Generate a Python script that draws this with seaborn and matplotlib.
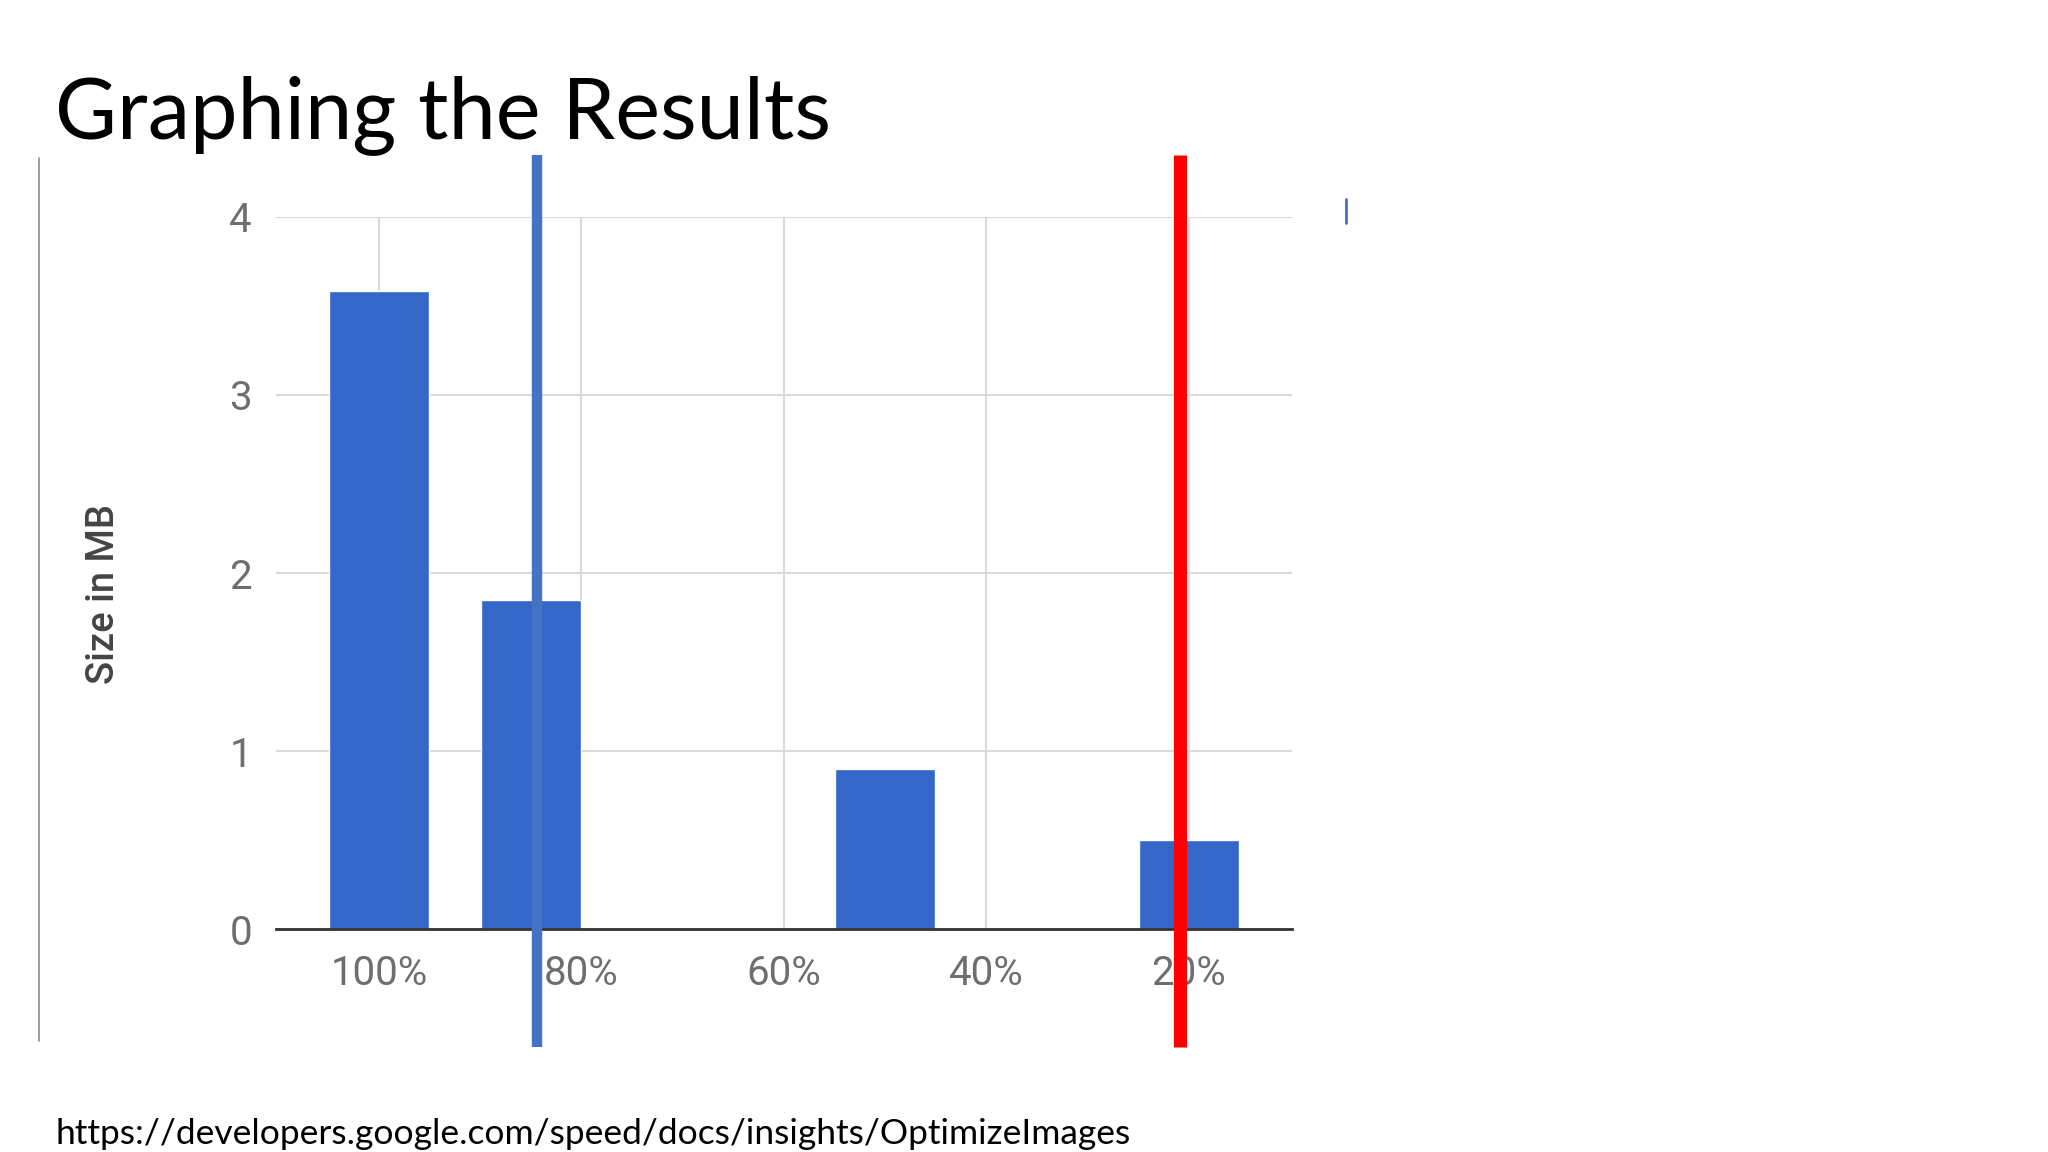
import matplotlib
matplotlib.use("Agg")
import matplotlib.pyplot as plt
import seaborn as sns

# Image quality setting vs. resulting file size
quality = [100, 85, 50, 20]
size_mb = [3.58, 1.85, 0.90, 0.50]
tick_values = [100, 80, 60, 40, 20]
tick_labels = ["100%", "80%", "60%", "40%", "20%"]
y_ticks = [0, 1, 2, 3, 4]
# quality levels highlighted with vertical markers
marker_quality = [84.4, 20.9]
marker_colors = ["#4472C4", "#FF0000"]
marker_widths = [7.5, 9.5]

sns.set_style("white")
plt.rcParams["font.family"] = ["Roboto", "DejaVu Sans"]

fig = plt.figure(figsize=(20.48, 11.52), dpi=100)
ax = fig.add_axes([0.1346, 0.1932, 0.4962, 0.6188])

sns.barplot(x=quality, y=size_mb, native_scale=True, width=0.66,
            color="#3467C8", saturation=1, ax=ax, zorder=2)

ax.set_xlim(110.2, 9.8)
ax.set_ylim(0, 4)
ax.set_xticks(tick_values)
ax.set_xticklabels(tick_labels)
ax.set_yticks(y_ticks)
ax.tick_params(axis="x", length=0, pad=18, labelsize=29, labelcolor="#6E6E6E")
ax.tick_params(axis="y", length=0, pad=17, labelsize=29, labelcolor="#6E6E6E")

ax.set_axisbelow(True)
ax.grid(True, color="#DADADA", linewidth=1.5)
for side in ["left", "right", "top"]:
    ax.spines[side].set_visible(False)
ax.spines["bottom"].set_color("#333333")
ax.spines["bottom"].set_linewidth(2)
ax.spines["bottom"].set_zorder(3)

ax.set_ylabel("Size in MB", fontsize=27.5, color="#444444", fontweight="medium")
ax.yaxis.set_label_coords(-0.151, 0.47)
ax.set_xlabel("")

for xq, c, lw in zip(marker_quality, marker_colors, marker_widths):
    ax.axvline(xq, ymin=-0.165, ymax=1.086, color=c, linewidth=lw,
               solid_capstyle="butt", clip_on=False, zorder=4)

# slide decorations
fig.text(0.0269, 0.880, "Graphing the Results", family=["Lato", "DejaVu Sans"],
         fontsize=61, color="black", va="baseline")
fig.text(0.0269, 0.007, "https://developers.google.com/speed/docs/insights/OptimizeImages",
         family=["Lato", "DejaVu Sans"], fontsize=25.5, color="black", va="baseline")
fig.add_artist(plt.Line2D([0.0192, 0.0192], [0.0963, 0.863], color="#8C8C8C", linewidth=1.2))
fig.add_artist(plt.Line2D([0.657, 0.657], [0.806, 0.827], color="#4472C4", linewidth=2))

fig.savefig("out.png", dpi=100)
